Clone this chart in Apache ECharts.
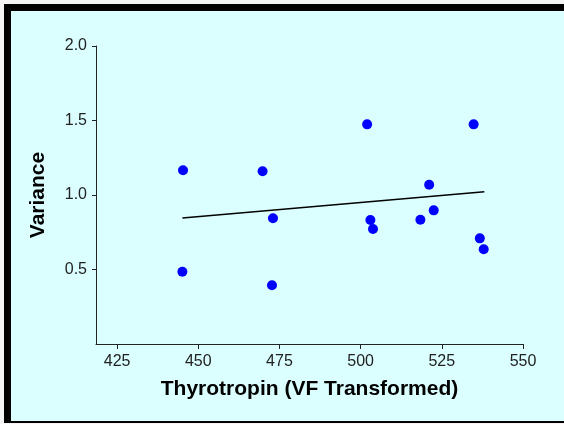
<!DOCTYPE html>
<html><head><meta charset="utf-8">
<script src="https://cdn.jsdelivr.net/npm/echarts@6/dist/echarts.min.js"></script>
<style>html,body{margin:0;padding:0;background:#f4f4f4}#c{width:564px;height:424px}</style>
</head><body><div id="c"></div>
<script>
const xValues = [445.3, 469.8, 473.0, 445.1, 472.7, 502.0, 534.8, 521.1, 503.0, 503.8, 518.4, 522.5, 536.7, 537.9];
const yValues = [1.166, 1.159, 0.844, 0.485, 0.394, 1.474, 1.474, 1.069, 0.832, 0.772, 0.834, 0.897, 0.709, 0.636];
const fitX = [445.1, 538.1];
const fitY = [0.846, 1.022];
const xTicks = [425, 450, 475, 500, 525, 550];
const yTicks = [0.5, 1.0, 1.5, 2.0];

const FONT = 'Liberation Sans, Arial, sans-serif';
const chart = echarts.init(document.getElementById('c'), null, {renderer: 'canvas'});
chart.setOption({
  backgroundColor: '#f4f4f4',
  animation: false,
  graphic: [
    {type: 'rect', z: -10, shape: {x: 4, y: 4, width: 560, height: 419}, style: {fill: '#000'}},
    {type: 'rect', z: -9, shape: {x: 11, y: 11, width: 553, height: 410}, style: {fill: '#dbffff'}}
  ],
  grid: {left: 96, right: 41, top: 46, bottom: 80, containLabel: false},
  xAxis: {
    type: 'value', min: 418.5, max: 550,
    name: 'Thyrotropin (VF Transformed)', nameLocation: 'middle', nameGap: 35,
    nameTextStyle: {fontFamily: FONT, fontSize: 21, fontWeight: 'bold', color: '#000'},
    axisLine: {show: true, onZero: false, lineStyle: {color: '#222', width: 1}},
    axisTick: {show: true, length: 5, customValues: xTicks, lineStyle: {color: '#222'}},
    axisLabel: {customValues: xTicks, fontFamily: FONT, fontSize: 16, color: '#222', margin: 10},
    splitLine: {show: false}
  },
  yAxis: {
    type: 'value', min: 0, max: 2,
    name: 'Variance', nameLocation: 'middle', nameGap: 47, nameRotate: 90,
    nameTextStyle: {fontFamily: FONT, fontSize: 21, fontWeight: 'bold', color: '#000'},
    axisLine: {show: true, onZero: false, lineStyle: {color: '#222', width: 1}},
    axisTick: {show: true, length: 4, customValues: yTicks, lineStyle: {color: '#222'}},
    axisLabel: {customValues: yTicks, fontFamily: FONT, fontSize: 16, color: '#222', margin: 9,
      formatter: v => v.toFixed(1)},
    splitLine: {show: false}
  },
  series: [
    {type: 'line', data: fitX.map((x, i) => [x, fitY[i]]), symbol: 'none',
     lineStyle: {color: '#000', width: 1.4}, z: 2},
    {type: 'scatter', data: xValues.map((x, i) => [x, yValues[i]]), symbolSize: 10,
     itemStyle: {color: '#0000ff', opacity: 1}, z: 3}
  ]
});
</script></body></html>
